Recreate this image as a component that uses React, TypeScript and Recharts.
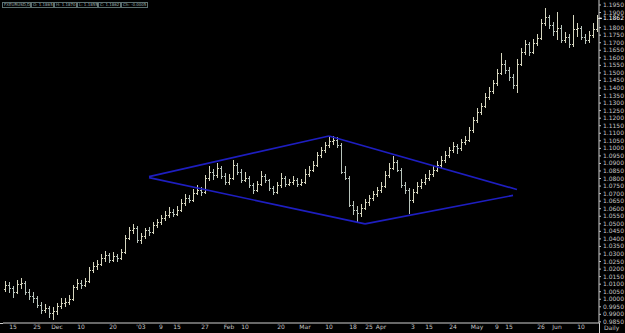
import React from 'react';
import { ComposedChart, Bar, XAxis, YAxis, ReferenceLine } from 'recharts';

// EURUSD daily, mid Nov 2002 .. mid Jun 2003
const opens = [
  1.0070, 1.0094, 1.0075, 1.0048, 1.0101, 1.0108, 1.0048, 1.0022, 1.0009, 0.9962,
  0.9929, 0.9942, 0.9909, 0.9922, 0.9955, 0.9975, 0.9982, 1.0002, 1.0081, 1.0108,
  1.0094, 1.0121, 1.0194, 1.0220, 1.0233, 1.0273, 1.0293, 1.0260, 1.0286, 1.0273,
  1.0313, 1.0406, 1.0459, 1.0472, 1.0393, 1.0419, 1.0459, 1.0446, 1.0492, 1.0512,
  1.0538, 1.0558, 1.0578, 1.0565, 1.0591, 1.0638, 1.0671, 1.0658, 1.0704, 1.0724,
  1.0711, 1.0804, 1.0843, 1.0823, 1.0870, 1.0817, 1.0777, 1.0804, 1.0890, 1.0843,
  1.0790, 1.0804, 1.0757, 1.0724, 1.0764, 1.0817, 1.0790, 1.0737, 1.0711, 1.0757,
  1.0804, 1.0764, 1.0777, 1.0790, 1.0764, 1.0777, 1.0830, 1.0857, 1.0890, 1.0956,
  1.0989, 1.1022, 1.1049, 1.1055, 1.1022, 1.0843, 1.0804, 1.0625, 1.0591, 1.0572,
  1.0605, 1.0645, 1.0671, 1.0698, 1.0724, 1.0751, 1.0823, 1.0870, 1.0910, 1.0857,
  1.0757, 1.0724, 1.0658, 1.0711, 1.0751, 1.0777, 1.0804, 1.0830, 1.0857, 1.0890,
  1.0923, 1.0956, 1.0989, 1.1015, 1.1002, 1.1042, 1.1055, 1.1121, 1.1188, 1.1241,
  1.1281, 1.1340, 1.1380, 1.1430, 1.1500, 1.1560, 1.1520, 1.1470, 1.1420, 1.1560,
  1.1640, 1.1690, 1.1640, 1.1700, 1.1730, 1.1830, 1.1870, 1.1820, 1.1780, 1.1800,
  1.1720, 1.1740, 1.1690, 1.1790, 1.1800, 1.1740, 1.1720, 1.1750, 1.1790,
];
const highs = [
  1.0120, 1.0115, 1.0090, 1.0125, 1.0140, 1.0118, 1.0070, 1.0045, 1.0020, 0.9985,
  0.9970, 0.9955, 0.9950, 0.9975, 1.0005, 1.0010, 1.0030, 1.0095, 1.0135, 1.0125,
  1.0140, 1.0215, 1.0245, 1.0260, 1.0300, 1.0320, 1.0305, 1.0310, 1.0300, 1.0335,
  1.0425, 1.0480, 1.0500, 1.0485, 1.0440, 1.0475, 1.0480, 1.0510, 1.0535, 1.0560,
  1.0585, 1.0610, 1.0600, 1.0620, 1.0665, 1.0700, 1.0690, 1.0730, 1.0755, 1.0745,
  1.0825, 1.0880, 1.0860, 1.0905, 1.0885, 1.0835, 1.0830, 1.0925, 1.0905, 1.0860,
  1.0840, 1.0815, 1.0770, 1.0785, 1.0850, 1.0830, 1.0800, 1.0750, 1.0780, 1.0835,
  1.0815, 1.0800, 1.0815, 1.0805, 1.0800, 1.0860, 1.0880, 1.0915, 1.0975, 1.1010,
  1.1045, 1.1080, 1.1085, 1.1075, 1.1035, 1.0880, 1.0815, 1.0650, 1.0620, 1.0630,
  1.0665, 1.0690, 1.0720, 1.0745, 1.0775, 1.0850, 1.0900, 1.0950, 1.0925, 1.0870,
  1.0775, 1.0740, 1.0730, 1.0775, 1.0800, 1.0830, 1.0855, 1.0880, 1.0915, 1.0950,
  1.0980, 1.1010, 1.1040, 1.1030, 1.1065, 1.1080, 1.1140, 1.1205, 1.1265, 1.1300,
  1.1365, 1.1405, 1.1455, 1.1525, 1.1630, 1.1585, 1.1540, 1.1490, 1.1590, 1.1665,
  1.1720, 1.1705, 1.1725, 1.1760, 1.1860, 1.1930, 1.1885, 1.1840, 1.1905, 1.1815,
  1.1770, 1.1755, 1.1885, 1.1830, 1.1810, 1.1760, 1.1775, 1.1830, 1.1885,
];
const lows = [
  1.0050, 1.0040, 1.0010, 1.0035, 1.0065, 1.0030, 0.9995, 0.9975, 0.9945, 0.9905,
  0.9910, 0.9875, 0.9862, 0.9895, 0.9935, 0.9950, 0.9960, 0.9990, 1.0060, 1.0070,
  1.0080, 1.0110, 1.0175, 1.0195, 1.0220, 1.0250, 1.0240, 1.0245, 1.0250, 1.0260,
  1.0300, 1.0390, 1.0435, 1.0375, 1.0365, 1.0400, 1.0420, 1.0430, 1.0475, 1.0495,
  1.0520, 1.0540, 1.0545, 1.0550, 1.0580, 1.0620, 1.0635, 1.0645, 1.0690, 1.0685,
  1.0700, 1.0785, 1.0790, 1.0805, 1.0800, 1.0755, 1.0760, 1.0790, 1.0825, 1.0770,
  1.0775, 1.0740, 1.0700, 1.0710, 1.0750, 1.0770, 1.0720, 1.0690, 1.0700, 1.0740,
  1.0745, 1.0750, 1.0760, 1.0745, 1.0750, 1.0765, 1.0810, 1.0840, 1.0875, 1.0935,
  1.0970, 1.1005, 1.1020, 1.1000, 1.0830, 1.0790, 1.0610, 1.0560, 1.0505, 1.0545,
  1.0590, 1.0620, 1.0650, 1.0680, 1.0705, 1.0740, 1.0805, 1.0855, 1.0840, 1.0740,
  1.0700, 1.0565, 1.0640, 1.0695, 1.0730, 1.0760, 1.0785, 1.0810, 1.0840, 1.0870,
  1.0900, 1.0935, 1.0970, 1.0965, 1.0985, 1.1020, 1.1040, 1.1105, 1.1170, 1.1220,
  1.1265, 1.1320, 1.1360, 1.1415, 1.1485, 1.1495, 1.1445, 1.1390, 1.1370, 1.1545,
  1.1620, 1.1610, 1.1625, 1.1680, 1.1715, 1.1810, 1.1790, 1.1745, 1.1720, 1.1700,
  1.1695, 1.1665, 1.1670, 1.1740, 1.1715, 1.1690, 1.1700, 1.1730, 1.1770,
];
const closes = [
  1.0094, 1.0075, 1.0048, 1.0101, 1.0108, 1.0048, 1.0022, 1.0009, 0.9962, 0.9929,
  0.9942, 0.9909, 0.9922, 0.9955, 0.9975, 0.9982, 1.0002, 1.0081, 1.0108, 1.0094,
  1.0121, 1.0194, 1.0220, 1.0233, 1.0273, 1.0293, 1.0260, 1.0286, 1.0273, 1.0313,
  1.0406, 1.0459, 1.0472, 1.0393, 1.0419, 1.0459, 1.0446, 1.0492, 1.0512, 1.0538,
  1.0558, 1.0578, 1.0565, 1.0591, 1.0638, 1.0671, 1.0658, 1.0704, 1.0724, 1.0711,
  1.0804, 1.0843, 1.0823, 1.0870, 1.0817, 1.0777, 1.0804, 1.0890, 1.0843, 1.0790,
  1.0804, 1.0757, 1.0724, 1.0764, 1.0817, 1.0790, 1.0737, 1.0711, 1.0757, 1.0804,
  1.0764, 1.0777, 1.0790, 1.0764, 1.0777, 1.0830, 1.0857, 1.0890, 1.0956, 1.0989,
  1.1022, 1.1049, 1.1055, 1.1022, 1.0843, 1.0804, 1.0625, 1.0591, 1.0572, 1.0605,
  1.0645, 1.0671, 1.0698, 1.0724, 1.0751, 1.0823, 1.0870, 1.0910, 1.0857, 1.0757,
  1.0724, 1.0658, 1.0711, 1.0751, 1.0777, 1.0804, 1.0830, 1.0857, 1.0890, 1.0923,
  1.0956, 1.0989, 1.1015, 1.1002, 1.1042, 1.1055, 1.1121, 1.1188, 1.1241, 1.1281,
  1.1340, 1.1380, 1.1430, 1.1500, 1.1560, 1.1520, 1.1470, 1.1420, 1.1560, 1.1640,
  1.1690, 1.1640, 1.1700, 1.1730, 1.1830, 1.1870, 1.1820, 1.1780, 1.1800, 1.1720,
  1.1740, 1.1690, 1.1790, 1.1800, 1.1740, 1.1720, 1.1750, 1.1790, 1.1862,
];

const xTickIndex = [2, 8, 13, 19, 27, 34, 39, 43, 50, 56, 60, 69, 75, 81, 87, 91, 94, 102, 106, 112, 118, 123, 126, 134, 138, 144];
const xTickLabels = ['15', '25', 'Dec', '10', '20', "'03", '9', '15', '27', 'Feb', '10', '20', 'Mar', '10', '18', '25', 'Apr', '3', '15', '24', 'May', '9', '15', '26', 'Jun', '10'];

const priceTicks = [
  1.195, 1.19, 1.18, 1.175, 1.17, 1.165, 1.16, 1.155, 1.15, 1.145, 1.14, 1.135, 1.13,
  1.125, 1.12, 1.115, 1.11, 1.105, 1.1, 1.095, 1.09, 1.085, 1.08, 1.075, 1.07, 1.065,
  1.06, 1.055, 1.05, 1.045, 1.04, 1.035, 1.03, 1.025, 1.02, 1.015, 1.01, 1.005, 1.0,
  0.995, 0.99, 0.985,
];
const currentPrice = 1.1862;

// diamond pattern: [bar index, price]
const diamondUpper = [[36, 1.0813], [81, 1.1082], [128, 1.0727]];
const diamondLower = [[36, 1.0806], [90, 1.05], [127, 1.0688]];

const header = ['FXEURUSD,D', 'O: 1.1865', 'H: 1.1870', 'L: 1.1855', 'C: 1.1862', 'Ch: -0.0005'];
const headerWidths = [29, 23, 23, 21, 23, 27];

const data = opens.map((o, i) => ({
  i,
  open: o,
  high: highs[i],
  low: lows[i],
  close: closes[i],
  range: [lows[i], highs[i]],
}));

const OhlcBar = (props: any) => {
  const { x, y, width, height, payload } = props;
  if (!payload) return null;
  const { open, high, low, close } = payload;
  const span = high - low || 1;
  const cx = Math.round(x + width / 2) + 0.5;
  const yo = Math.round(y + ((high - open) / span) * height) + 0.5;
  const yc = Math.round(y + ((high - close) / span) * height) + 0.5;
  const color = close >= open ? '#d6d6bf' : '#b8c4bc';
  return (
    <g stroke={color} strokeWidth={1} shapeRendering="crispEdges">
      <line x1={cx} x2={cx} y1={y} y2={y + height} />
      <line x1={cx - 1.5} x2={cx} y1={yo} y2={yo} />
      <line x1={cx} x2={cx + 1.5} y1={yc} y2={yc} />
    </g>
  );
};

const PriceTick = (props: any) => {
  const { x, y, payload } = props;
  const cur = payload.value === currentPrice;
  return (
    <g>
      {cur && <line x1={x - 4} x2={x - 1} y1={y} y2={y} stroke="#ffffff" />}
      <text x={x} y={y} dy={2} fontSize={6} fill={cur ? '#ffffff' : '#c4c4c4'} textAnchor="start">
        {payload.value.toFixed(4)}
      </text>
    </g>
  );
};

export default function App() {
  return (
    <div style={{ position: 'fixed', left: 0, top: 0, width: 625, height: 333, background: '#000', overflow: 'hidden', fontFamily: 'DejaVu Sans' }}>
      <ComposedChart
        width={625}
        height={333}
        data={data}
        margin={{ top: 0, right: 0, left: 3, bottom: 0 }}
        style={{ fontFamily: 'DejaVu Sans' }}
      >
        <XAxis
          dataKey="i"
          type="category"
          ticks={xTickIndex}
          interval={0}
          tickFormatter={(v: number) => xTickLabels[xTickIndex.indexOf(v)] ?? ''}
          tick={{ fill: '#c4c4c4', fontSize: 6 }}
          tickLine={false}
          tickSize={0}
          tickMargin={2}
          height={10}
          axisLine={{ stroke: '#d0d0d0' }}
        />
        <YAxis
          orientation="right"
          domain={[0.98426, 1.19831]}
          allowDataOverflow
          ticks={[...priceTicks, currentPrice]}
          interval={0}
          width={26}
          tickSize={2}
          tickMargin={2}
          tick={<PriceTick />}
          tickLine={{ stroke: '#c4c4c4' }}
          axisLine={{ stroke: '#d0d0d0' }}
        />
        <Bar dataKey="range" shape={<OhlcBar />} isAnimationActive={false} />
        {[diamondUpper, diamondLower].map((pts, k) =>
          pts.slice(1).map((p, j) => (
            <ReferenceLine
              key={`${k}-${j}`}
              segment={[{ x: pts[j][0], y: pts[j][1] }, { x: p[0], y: p[1] }]}
              stroke="#1e1ec0"
              strokeWidth={1.7}
              ifOverflow="visible"
            />
          ))
        )}
      </ComposedChart>
      <div style={{ position: 'absolute', left: 599, top: 323, width: 1, height: 10, background: '#d0d0d0' }} />
      <div style={{ position: 'absolute', left: 0, top: 323, width: 3, height: 1, background: '#d0d0d0' }} />
      <div style={{ position: 'absolute', left: 604, top: 324, fontSize: 6, color: '#c4c4c4', lineHeight: '8px' }}>Daily</div>
      <div style={{ position: 'absolute', left: 2, top: 2, display: 'flex' }}>
        {header.map((t, k) => (
          <div
            key={k}
            style={{
              width: headerWidths[k],
              height: 6,
              border: '1px solid #5c7070',
              boxSizing: 'border-box',
              fontSize: 4,
              lineHeight: '4px',
              color: '#9fb0b0',
              whiteSpace: 'nowrap',
              paddingLeft: 1,
            }}
          >
            {t}
          </div>
        ))}
      </div>
    </div>
  );
}
